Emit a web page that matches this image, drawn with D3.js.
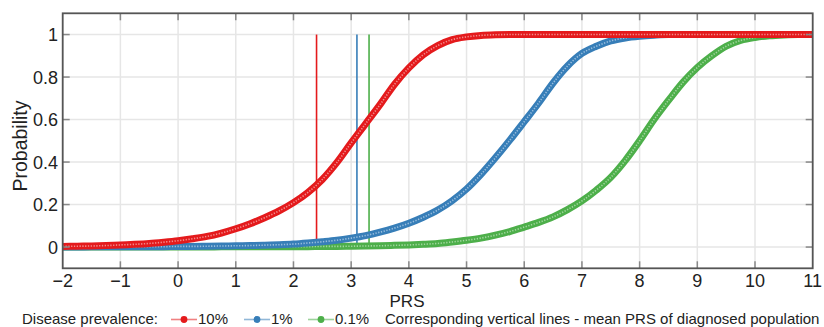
<!DOCTYPE html>
<html>
<head>
<meta charset="utf-8">
<script src="https://cdn.jsdelivr.net/npm/d3@7/dist/d3.min.js"></script>
<style>
html,body{margin:0;padding:0;background:#fff;}
svg{display:block;font-family:"Liberation Sans",Arial,sans-serif;}
</style>
</head>
<body>
<svg id="chart" width="824" height="327"></svg>
<script>
// ---- data ----
const prs = [-2,-1.75,-1.5,-1.25,-1,-0.75,-0.5,-0.25,0,0.25,0.5,0.75,1,1.25,1.5,1.75,2,2.25,2.5,2.75,3,3.25,3.5,3.75,4,4.25,4.5,4.75,5,5.25,5.5,5.75,6,6.25,6.5,6.75,7,7.25,7.5,7.75,8,8.25,8.5,8.75,9,9.25,9.5,9.75,10,10.25,10.5,10.75,11];
const prob10 = [0.003,0.004,0.005,0.007,0.010,0.013,0.017,0.023,0.030,0.039,0.050,0.066,0.086,0.110,0.138,0.170,0.209,0.257,0.318,0.397,0.490,0.580,0.670,0.765,0.843,0.905,0.948,0.976,0.989,0.996,0.999,1,1,1,1,1,1,1,1,1,1,1,1,1,1,1,1,1,1,1,1,1,1];
const prob1 = [0.000,0.000,0.001,0.001,0.001,0.001,0.002,0.002,0.003,0.003,0.004,0.005,0.006,0.007,0.009,0.011,0.014,0.019,0.025,0.032,0.042,0.054,0.070,0.089,0.112,0.140,0.174,0.218,0.273,0.342,0.420,0.503,0.590,0.678,0.772,0.852,0.911,0.945,0.970,0.984,0.992,0.997,1,1,1,1,1,1,1,1,1,1,1];
const prob01 = [0,0,0,0,0,0,0,0,0,0,0,0.001,0.001,0.001,0.001,0.002,0.002,0.002,0.003,0.003,0.004,0.005,0.006,0.008,0.010,0.013,0.017,0.024,0.032,0.042,0.056,0.073,0.094,0.116,0.142,0.176,0.217,0.268,0.328,0.407,0.500,0.600,0.690,0.775,0.845,0.900,0.945,0.972,0.986,0.994,0.998,1,1];
const seriesNames = ["10%","1%","0.1%"];
const meanPRS = [2.40, 3.10, 3.31];
const xTicks = [-2,-1,0,1,2,3,4,5,6,7,8,9,10,11];
const yTicks = [0,0.2,0.4,0.6,0.8,1];
const colors = ["#e41a1c","#377eb8","#4daf4a"];
const lightColors = ["#f6b3b3","#b9d3ea","#bde3bb"];

// ---- layout ----
const svg = d3.select("#chart");
const L = 62.7, R = 812.7, T = 13.3, B = 268.3;
const x = d3.scaleLinear().domain([-2, 11]).range([L, R]);
const y = d3.scaleLinear().domain([-0.1, 1.1]).range([B, T]);

svg.append("defs").append("clipPath").attr("id","clip")
  .append("rect").attr("x",L).attr("y",T).attr("width",R-L).attr("height",B-T);

// grid
const grid = svg.append("g");
grid.selectAll("line.gx").data(xTicks).join("line")
  .attr("x1",d=>x(d)).attr("x2",d=>x(d)).attr("y1",T).attr("y2",B)
  .attr("stroke","#e6e6e6").attr("stroke-width",1.5);
grid.selectAll("line.gy").data(yTicks).join("line")
  .attr("y1",d=>y(d)).attr("y2",d=>y(d)).attr("x1",L).attr("x2",R)
  .attr("stroke","#e6e6e6").attr("stroke-width",1.5);

// vertical mean lines
svg.append("g").selectAll("line").data(meanPRS).join("line")
  .attr("x1",d=>x(d)).attr("x2",d=>x(d)).attr("y1",y(0)).attr("y2",y(1))
  .attr("stroke",(d,i)=>colors[i]).attr("stroke-width",1.6);

// curves
const series = [prob10, prob1, prob01];
const line = d3.line().x((d,i)=>x(prs[i])).y(d=>y(d)).curve(d3.curveMonotoneX);
const plot = svg.append("g").attr("clip-path","url(#clip)");
[2,1,0].forEach(si=>{
  const g = plot.append("g");
  g.append("path").datum(series[si]).attr("d",line)
    .attr("fill","none").attr("stroke",colors[si]).attr("stroke-width",7)
    .attr("stroke-linecap","round").attr("stroke-linejoin","round");
  g.append("path").datum(series[si]).attr("d",line)
    .attr("fill","none").attr("stroke",lightColors[si]).attr("stroke-width",1.6)
    .attr("stroke-dasharray","1.3 1.5").attr("opacity",0.75);
});

// frame + ticks
const frame = svg.append("g");
const tickLen = 7;
frame.selectAll("line.tb").data(xTicks.slice(1,-1)).join("line")
  .attr("x1",d=>x(d)).attr("x2",d=>x(d)).attr("y1",B).attr("y2",B-tickLen)
  .attr("stroke","#888").attr("stroke-width",1.5);
frame.selectAll("line.tt").data(xTicks.slice(1,-1)).join("line")
  .attr("class","tt")
  .attr("x1",d=>x(d)).attr("x2",d=>x(d)).attr("y1",T).attr("y2",T+tickLen)
  .attr("stroke","#888").attr("stroke-width",1.5);
frame.selectAll("line.tl").data(yTicks).join("line")
  .attr("class","tl")
  .attr("y1",d=>y(d)).attr("y2",d=>y(d)).attr("x1",L).attr("x2",L+tickLen)
  .attr("stroke","#888").attr("stroke-width",1.5);
frame.selectAll("line.tr").data(yTicks).join("line")
  .attr("class","tr")
  .attr("y1",d=>y(d)).attr("y2",d=>y(d)).attr("x1",R).attr("x2",R-tickLen)
  .attr("stroke","#888").attr("stroke-width",1.5);
frame.append("rect").attr("x",L).attr("y",T).attr("width",R-L).attr("height",B-T)
  .attr("fill","none").attr("stroke","#555").attr("stroke-width",1.8);

// tick labels
const fmtNum = d => d < 0 ? "\u2212" + Math.abs(d) : String(d);
svg.append("g").selectAll("text").data(xTicks).join("text")
  .attr("x",d=>x(d)).attr("y",286.5).attr("text-anchor","middle")
  .attr("font-size",18).attr("fill","#222").text(fmtNum);
svg.append("g").selectAll("text").data(yTicks).join("text")
  .attr("x",58).attr("y",d=>y(d)).attr("dy","0.36em").attr("text-anchor","end")
  .attr("font-size",18).attr("fill","#222").text(d=>String(d));

// axis titles
svg.append("text").attr("x",407).attr("y",306.5).attr("text-anchor","middle")
  .attr("font-size",17).attr("fill","#222").text("PRS");
svg.append("text").attr("transform","translate(27,146) rotate(-90)")
  .attr("text-anchor","middle").attr("font-size",19.5).attr("fill","#222").text("Probability");

// legend
const lg = svg.append("g").attr("font-size",15).attr("fill","#222");
lg.append("text").attr("x",22).attr("y",324).text("Disease prevalence:");
const legX = [171, 244, 308];
seriesNames.forEach((n,i)=>{
  const gx = legX[i];
  lg.append("line").attr("x1",gx).attr("x2",gx+26).attr("y1",319.5).attr("y2",319.5)
    .attr("stroke",colors[i]).attr("stroke-opacity",0.55).attr("stroke-width",1.6);
  lg.append("circle").attr("cx",gx+13).attr("cy",319.5).attr("r",3.4).attr("fill",colors[i]);
  lg.append("text").attr("x",gx+27).attr("y",324).text(n);
});
lg.append("text").attr("x",385).attr("y",324)
  .text("Corresponding vertical lines - mean PRS of diagnosed population");
</script>
</body>
</html>
